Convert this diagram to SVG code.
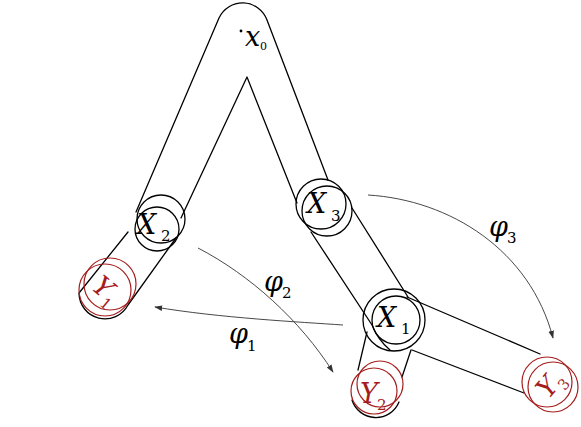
<svg xmlns="http://www.w3.org/2000/svg" width="581" height="427" viewBox="0 0 581 427">
<style>
.ln{fill:none;stroke:#000;stroke-width:1.3;stroke-linecap:round;stroke-linejoin:round}
.rd{fill:none;stroke:#a51d1d;stroke-width:1.2}
.cn{fill:none;stroke:#333;stroke-width:0.9}
.m{font-family:"DejaVu Serif","Liberation Serif",serif;font-style:italic;font-size:27px;fill:#000}
.s{font-family:"DejaVu Serif","Liberation Serif",serif;font-size:15px;fill:#000}
.mr{font-family:"DejaVu Serif","Liberation Serif",serif;font-style:italic;font-size:27px;fill:#a51d1d}
.sr{font-family:"DejaVu Serif","Liberation Serif",serif;font-size:15px;fill:#a51d1d}
</style>
<defs>
<marker id="arr" viewBox="0 0 10 10" refX="9" refY="5" markerWidth="8" markerHeight="8" orient="auto" markerUnits="userSpaceOnUse">
<path d="M0,1.5 L10,5 L0,8.5 Z" fill="#333"/>
</marker>
</defs>
<rect width="581" height="427" fill="#fff"/>

<g id="body">
<path class="ln" d="M136,212 L219,18 A26,26 0 0 1 267,20 L328,180"/>
<path class="ln" d="M181,218 L247,77 L297,203"/>
<path class="ln" d="M128,232 L79,293 A26,26 0 0 0 128,305 L176,238"/>
<path class="ln" d="M311,232 L372,325 Q378,340 390,350"/>
<path class="ln" d="M352,208 L408,297"/>
<path class="ln" d="M407,297 L540,354"/>
<path class="ln" d="M412,350 L524,393"/>
<path class="ln" d="M367,332 L358,370"/>
<path class="ln" d="M411,350 L402,377"/>
<path class="ln" d="M352,400 A25,25 0 0 0 399,402"/>
</g>

<g id="x0">
<circle cx="241" cy="31" r="1.4" fill="#000"/>
<text class="m" x="245" y="46">x</text>
<text class="s" x="260" y="50" style="font-size:11px">0</text>
</g>

<g id="X2">
<circle class="ln" cx="161" cy="219" r="24"/>
<circle class="ln" cx="157" cy="229" r="22"/>
<text class="m" x="137" y="234">X</text>
<text class="s" x="161" y="241">2</text>
</g>

<g id="X3">
<circle class="ln" cx="321" cy="204" r="25"/>
<circle class="ln" cx="327" cy="211" r="25"/>
<text class="m" x="307" y="213">X</text>
<text class="s" x="331" y="221">3</text>
</g>

<g id="X1">
<circle class="ln" cx="394" cy="320" r="31"/>
<circle class="ln" cx="396" cy="320" r="24"/>
<text class="m" x="377" y="327">X</text>
<text class="s" x="401" y="334">1</text>
</g>

<g id="Y1">
<circle class="rd" cx="110" cy="284" r="26"/>
<circle class="rd" cx="105" cy="290" r="26"/>
<g transform="translate(106,290) rotate(40)">
<text class="mr" x="-13" y="9">Y</text>
<text class="sr" x="4" y="16">1</text>
</g>
</g>

<g id="Y2">
<circle class="rd" cx="380" cy="384" r="23"/>
<circle class="rd" cx="374" cy="391" r="23"/>
<text class="mr" x="360" y="403">Y</text>
<text class="sr" x="377" y="410">2</text>
</g>

<g id="Y3">
<circle class="rd" cx="547" cy="382" r="25"/>
<circle class="rd" cx="553" cy="387" r="25"/>
<g transform="translate(550,384) rotate(-50)">
<text class="mr" x="-13" y="9">Y</text>
<text class="sr" x="4" y="16">3</text>
</g>
</g>

<g id="connectors">
<path class="cn" d="M368,195 C450,200 530,250 553,338" marker-end="url(#arr)"/>
<path class="cn" d="M198,248 C250,275 300,320 333,372" marker-end="url(#arr)"/>
<path class="cn" d="M343,325 C300,322 220,318 155,307" marker-end="url(#arr)"/>
<text class="m" x="489" y="236">φ</text>
<text class="s" x="507" y="243">3</text>
<text class="m" x="264" y="291">φ</text>
<text class="s" x="282" y="298">2</text>
<text class="m" x="229" y="343">φ</text>
<text class="s" x="247" y="351">1</text>
</g>
</svg>
